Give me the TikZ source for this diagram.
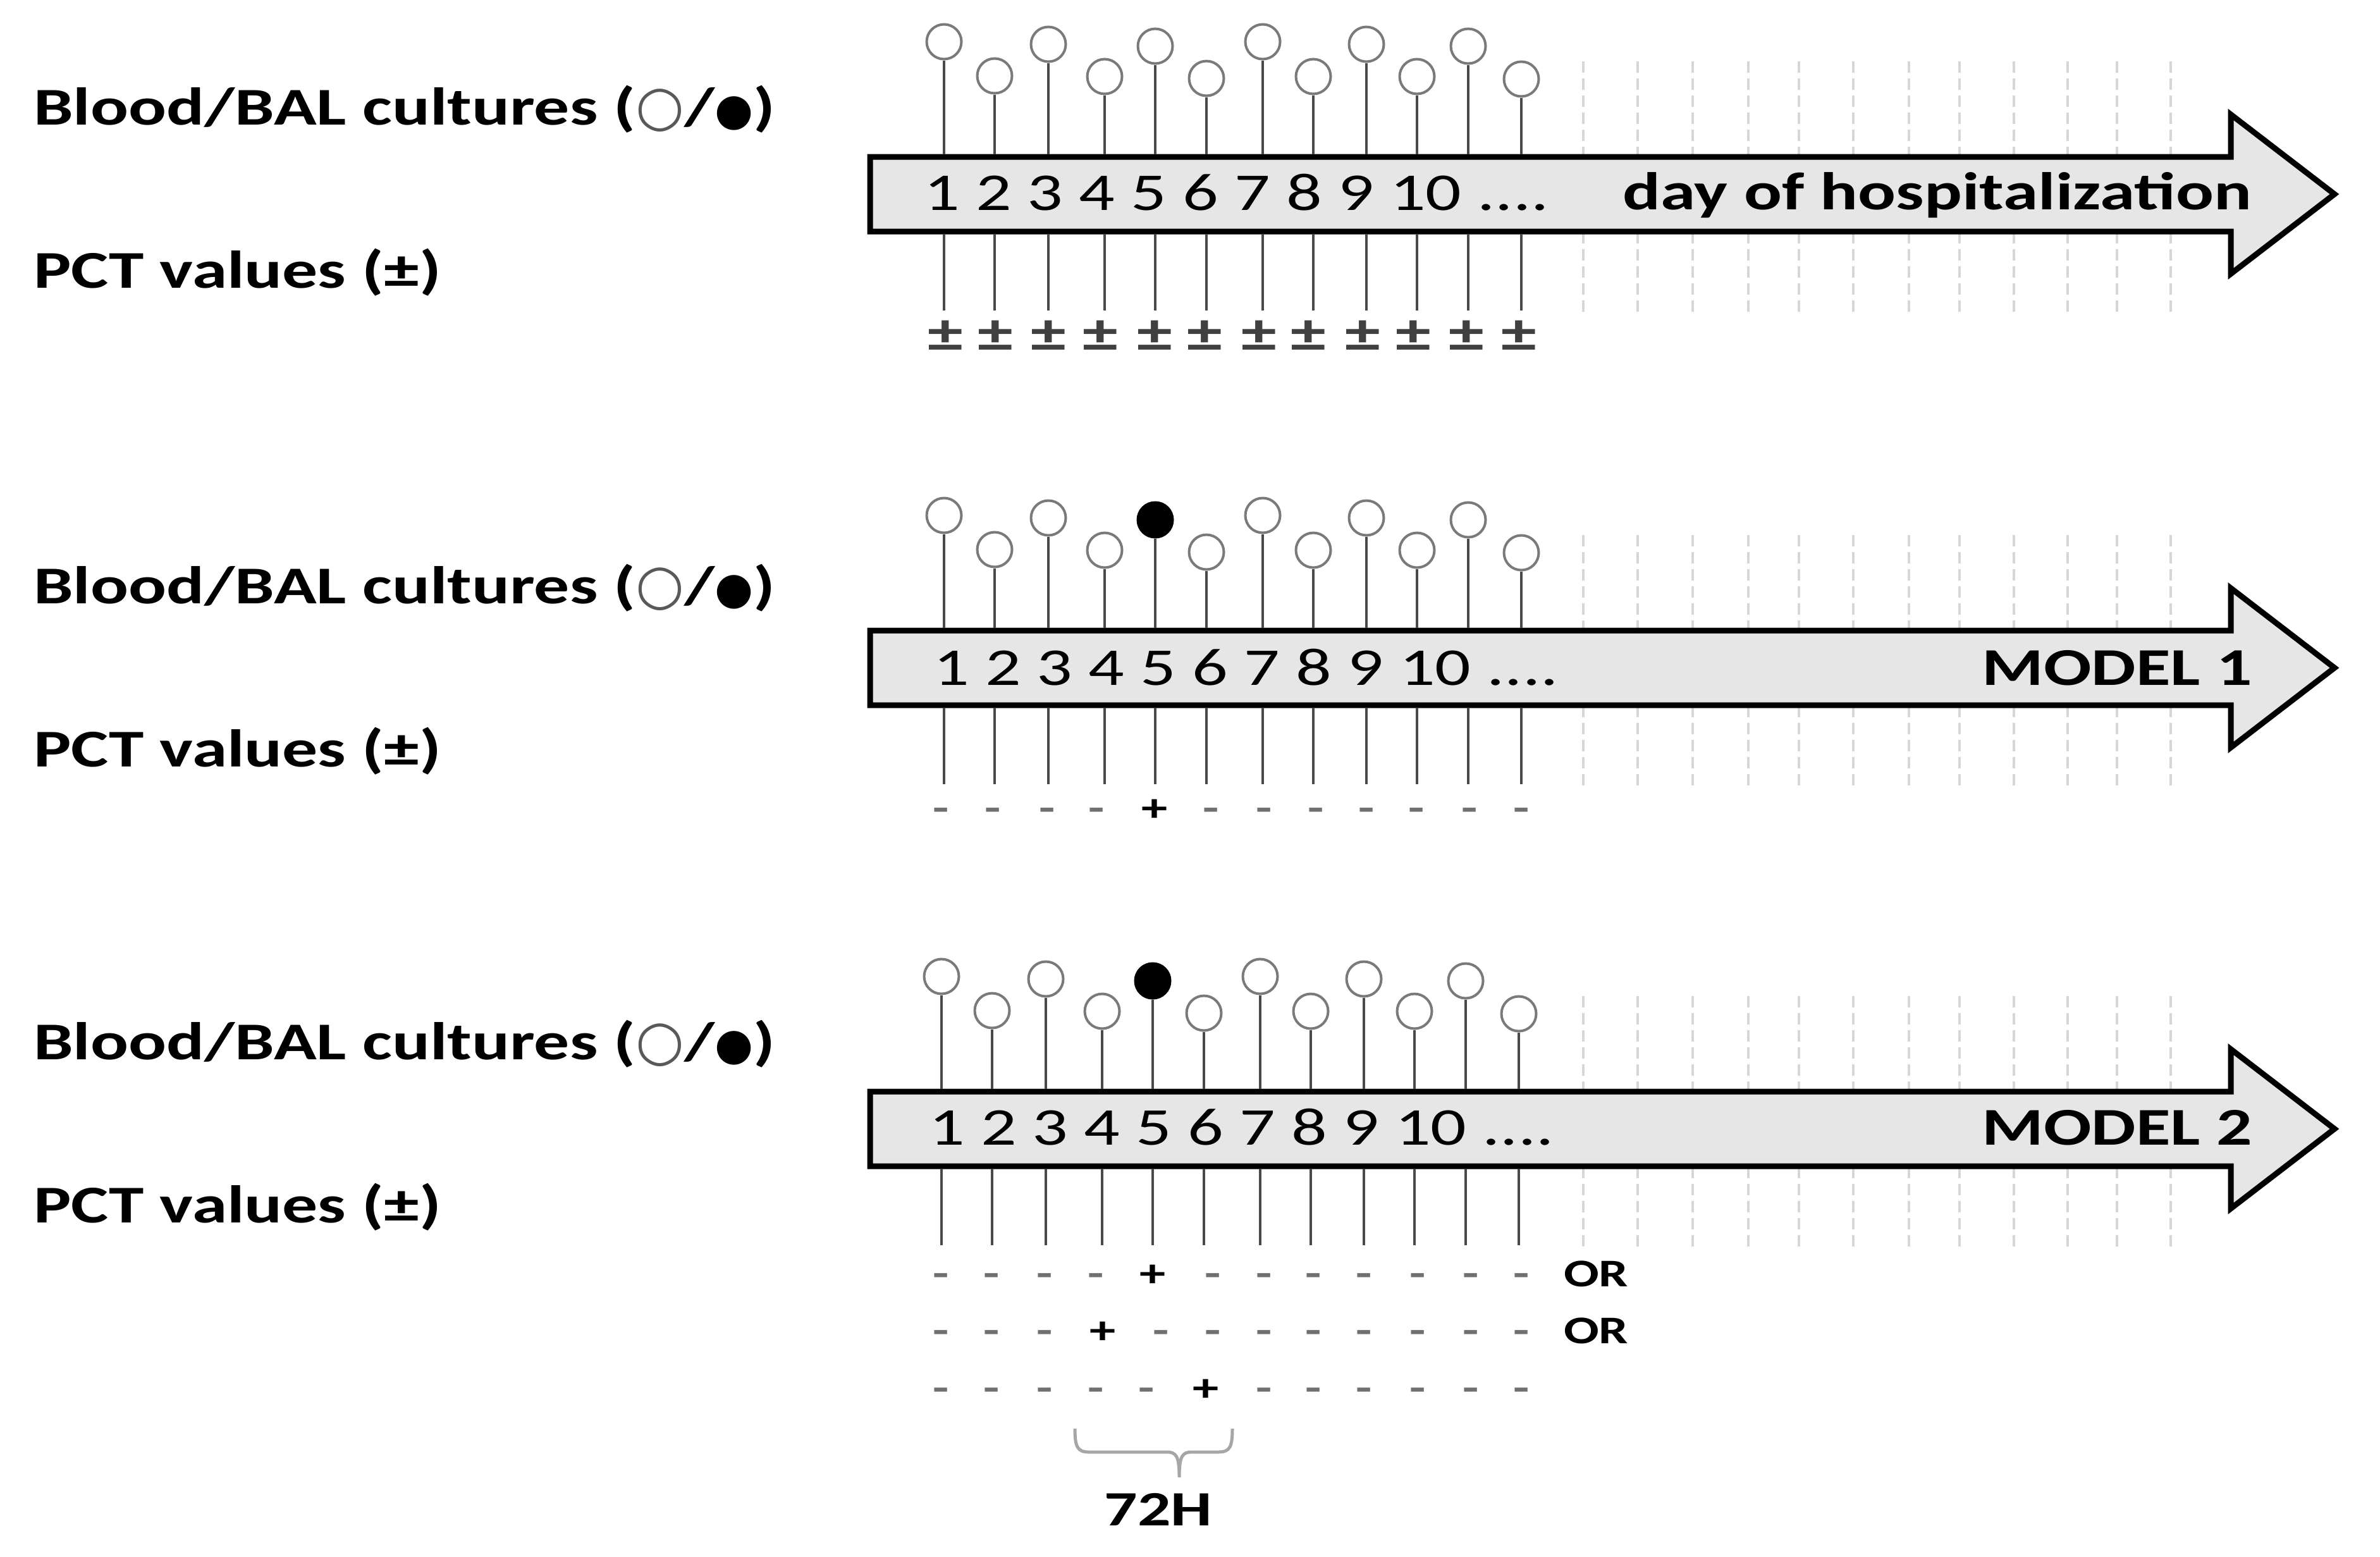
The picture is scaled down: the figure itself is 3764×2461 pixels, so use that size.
\documentclass[tikz,border=0pt]{standalone}
\usepackage{fontspec}
\setmainfont{Carlito}
\newfontfamily\dv{DejaVu Sans}
\usetikzlibrary{calc}
\definecolor{arrowfill}{HTML}{E6E6E6}
\definecolor{stemcol}{HTML}{4A4A4A}
\definecolor{circcol}{HTML}{7A7A7A}
\definecolor{dashcol}{HTML}{D6D6D6}
\definecolor{bracecol}{HTML}{A6A6A6}
\definecolor{minuscol}{HTML}{707070}
\newcommand\sx[1]{\scalebox{1.33}[1]{#1}}
\tikzset{
  lbl/.style={inner sep=0, anchor=base west, font=\fontsize{84}{90}\selectfont\bfseries},
  daynum/.style={inner sep=0, anchor=base west, font=\fontsize{84}{90}\selectfont},
  axtitle/.style={inner sep=0, anchor=base east, font=\fontsize{84}{90}\selectfont\bfseries},
  pin/.style={circle, line width=4pt, minimum size=55pt, inner sep=0},
  stem/.style={draw=stemcol, line width=4.5pt},
  guide/.style={draw=dashcol, line width=4pt, dash pattern=on 18pt off 9pt},
  timeline/.style={draw=black, line width=9pt, fill=arrowfill, line join=miter, miter limit=20},
  pm/.style={inner sep=0, anchor=base, font=\fontsize{84}{90}\selectfont\bfseries, text=black!75},
  minus/.style={inner sep=0, anchor=base, font=\fontsize{62}{70}\selectfont\bfseries, text=minuscol},
  plus/.style={inner sep=0, anchor=base, font=\fontsize{62}{70}\selectfont\bfseries, text=black},
  ortext/.style={inner sep=0, anchor=base west, font=\fontsize{62}{70}\selectfont\bfseries},
  brace/.style={draw=bracecol, line width=5pt},
}
\begin{document}
\begin{tikzpicture}[x=1pt,y=-1pt]
\useasboundingbox (0,0) rectangle (3764,2461);
\fill[white] (0,0) rectangle (3764,2461);

\foreach \p/\off/\dx/\noff/\nx/\loff in {1/0/0/0/1461/0, 2/749/0/751/1476/757, 3/1478/-4/1478/1469/1478} {
  % dashed guides
  \foreach \gx in {2504,2590,2677,2765,2845,2931,3019,3099,3185,3270,3348,3433}
    \draw[guide] (\gx,97+\off) -- (\gx,497+\off);
  % timeline arrow
  \draw[timeline] (1376,248+\off) -- (3528,248+\off) -- (3528,181+\off) -- (3692,307+\off)
     -- (3528,433+\off) -- (3528,366+\off) -- (1376,366+\off) -- cycle;
  % pins
  \foreach \i/\x/\cy in {1/1493/66, 2/1573/120, 3/1658/70, 4/1747/121, 5/1827/73, 6/1908/124,
                          7/1997/66, 8/2077/121, 9/2161/70, 10/2241/121, 11/2322/73, 12/2406/125} {
    \ifnum\p>1 \ifnum\i=5 \def\fc{black}\def\dc{black}\else\def\fc{white}\def\dc{circcol}\fi
    \else \def\fc{white}\def\dc{circcol}\fi
    \coordinate (t\p-\i) at (\x+\dx, 244+\off);
    \coordinate (b\p-\i) at (\x+\dx, 370+\off);
    \coordinate (e\p-\i) at (\x+\dx, 491+\off);
    \node[pin, draw=\dc, fill=\fc] (c\p-\i) at (\x+\dx, \cy+\off) {};
    \draw[stem] (c\p-\i) -- (t\p-\i);
    \draw[stem] (b\p-\i) -- (e\p-\i);
  }
  % day numbers
  \node[daynum] (n\p) at (\nx, 332+\noff) {\sx{1 2 3 4 5 6 7 8 9 10 ....}};
  % left labels
  \node[lbl] (bl\p) at (53, 197+\loff) {\sx{Blood/BAL cultures (}{\dv\fontsize{88}{90}\selectfont\color{black!65}○}\sx{/}{\dv\fontsize{70}{72}\selectfont ●}\sx{)}};
  \node[lbl] (pct\p) at (53, 455+\loff) {\sx{PCT values (±)}};
}

\node[axtitle] (title1) at (3561,331) {\sx{day of hospitalization}};
\node[axtitle] (title2) at (3562,1083) {\sx{MODEL 1}};
\node[axtitle] (title3) at (3562,1810) {\sx{MODEL 2}};

% panel 1 plus/minus
\foreach \x [count=\k] in {1495,1574,1658,1740,1826,1905,1991,2069,2155,2235,2319,2402}
  \node[pm] (pm\k) at (\x,556) {\sx{±}};

% panel 2
\foreach \x [count=\k] in {1488,1570,1656,1734,1915,1999,2081,2161,2240,2324,2406}
  \node[minus] (m2-\k) at (\x,1298) {\sx{-}};
\node[plus] (p2) at (1826,1298) {\sx{+}};

% panel 3 rows
\foreach \x [count=\k] in {1488,1568,1652,1733,1918,1999,2077,2157,2242,2326,2406}
  \node[minus] (ma-\k) at (\x,2034) {\sx{-}};
\node[plus] (pa) at (1823,2034) {\sx{+}};
\node[ortext] (ora) at (2473,2034) {\sx{OR}};

\foreach \x [count=\k] in {1488,1568,1652,1836,1918,1999,2077,2157,2242,2326,2406}
  \node[minus] (mb-\k) at (\x,2124) {\sx{-}};
\node[plus] (pb) at (1744,2124) {\sx{+}};
\node[ortext] (orb) at (2473,2124) {\sx{OR}};

\foreach \x [count=\k] in {1488,1568,1652,1733,1813,1999,2077,2157,2242,2326,2406}
  \node[minus] (mc-\k) at (\x,2215) {\sx{-}};
\node[plus] (pc) at (1907,2215) {\sx{+}};

% brace and 72H
\draw[brace] (1700,2259) .. controls (1700,2288) and (1704,2296) .. (1722,2296) -- (1845,2296)
   .. controls (1860,2296) and (1865,2302) .. (1865,2336)
   .. controls (1865,2302) and (1870,2296) .. (1885,2296) -- (1927,2296)
   .. controls (1945,2296) and (1949,2288) .. (1949,2259);
\node[inner sep=0, anchor=base, font=\fontsize{78}{84}\selectfont\bfseries] (h72) at (1832,2412) {\sx{72H}};
\end{tikzpicture}
\end{document}
